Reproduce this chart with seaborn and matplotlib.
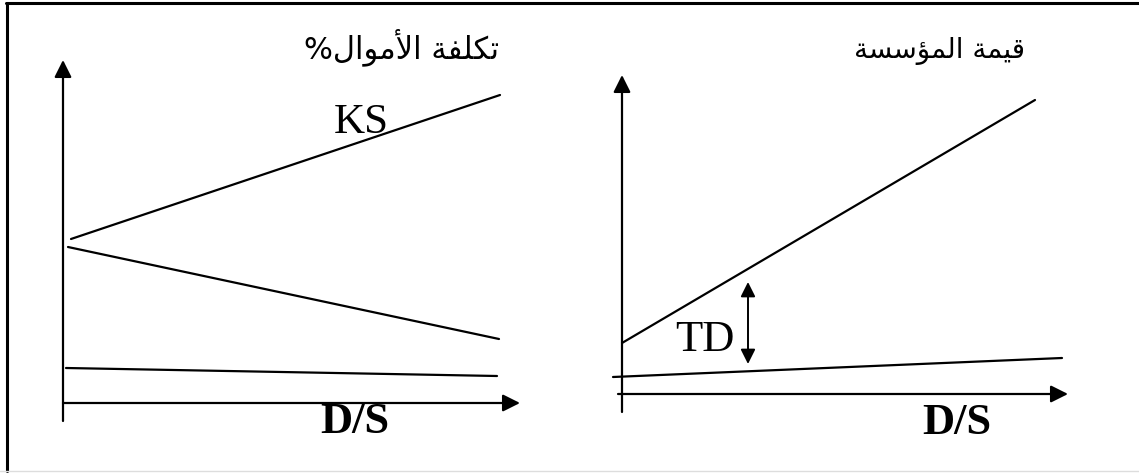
import pandas as pd
import seaborn as sns
import matplotlib.pyplot as plt
from matplotlib.lines import Line2D

# values (1 unit = 10 px from each panel's origin)
# left panel: cost of funds vs D/S
left_x_start = [0.8, 0.5, 0.3]
left_y_start = [16.4, 15.6, 3.5]
left_x_end = [43.7, 43.6, 43.4]
left_y_end = [30.8, 6.4, 2.7]
left_lines = ["KS", "KD_falling", "KD"]

# right panel: firm value vs D/S
right_x_start = [0.0, -0.9]
right_y_start = [5.1, 1.7]
right_x_end = [41.3, 44.0]
right_y_end = [29.4, 3.6]
right_lines = ["V_levered", "V_unlevered"]
td_x = 12.6
td_y = [3.0, 11.2]

# titles, hand-shaped Arabic (visual order, presentation forms)
title_left = "%\uFEDD\uFE8D\uFEEE\uFEE3\uFEF7\uFE8D \uFE94\uFED4\uFEE0\uFEDC\uFE97"   # تكلفة الأموال%
title_right = "\uFE94\uFEB4\uFEB3\uFE86\uFEE4\uFEDF\uFE8D \uFE94\uFEE4\uFEF4\uFED7"  # قيمة المؤسسة


def to_df(xs, ys, xe, ye, names):
    rows = []
    for a, b, c, d, n in zip(xs, ys, xe, ye, names):
        rows.append({"x": a, "y": b, "line": n})
        rows.append({"x": c, "y": d, "line": n})
    return pd.DataFrame(rows)


df_left = to_df(left_x_start, left_y_start, left_x_end, left_y_end, left_lines)
df_right = to_df(right_x_start, right_y_start, right_x_end, right_y_end, right_lines)

sns.set_style("white")
plt.rcParams["font.family"] = ["Liberation Serif", "DejaVu Sans"]
plt.rcParams["text.color"] = "black"

W, H = 1139, 475
fig = plt.figure(figsize=(W / 100, H / 100), dpi=100)


def px_axes(x0, y0, x1, y1):
    return fig.add_axes([x0 / W, 1 - y1 / H, (x1 - x0) / W, (y1 - y0) / H])


ax1 = px_axes(40, 40, 560, 460)
ax1.set_xlim(-2.3, 49.7)
ax1.set_ylim(-5.7, 36.3)
ax2 = px_axes(600, 40, 1100, 460)
ax2.set_xlim(-2.2, 47.8)
ax2.set_ylim(-6.6, 35.4)

for ax, df in [(ax1, df_left), (ax2, df_right)]:
    sns.lineplot(data=df, x="x", y="y", units="line", estimator=None,
                 color="black", lw=1.6, ax=ax, legend=False)
    ax.axis("off")

arrow = dict(arrowstyle="-|>", color="black", lw=1.6, mutation_scale=26,
             shrinkA=0, shrinkB=0)
# left axes
ax1.annotate("", xy=(0, 34.3), xytext=(0, -1.8), arrowprops=arrow)
ax1.annotate("", xy=(45.7, 0), xytext=(0, 0), arrowprops=arrow)
# right axes
ax2.annotate("", xy=(0, 31.9), xytext=(0, -1.8), arrowprops=arrow)
ax2.annotate("", xy=(44.6, 0), xytext=(-0.4, 0), arrowprops=arrow)
ax2.annotate("", xy=(td_x, td_y[0]), xytext=(td_x, td_y[1]),
             arrowprops=dict(arrowstyle="<|-|>", color="black", lw=1.4,
                             mutation_scale=22, shrinkA=0, shrinkB=0))

# labels
ax1.text(29.8, 28.0, "KS", fontsize=31, color="black", ha="center", va="center")
ax1.text(29.2, -1.9, "D/S", fontsize=32, fontweight="bold", color="black",
         ha="center", va="center")
ax1.text(33.9, 35.6, title_left, fontsize=22, color="black", ha="center",
         va="center", family="DejaVu Sans")

ax2.text(8.3, 5.4, "TD", fontsize=32, color="black", ha="center", va="center")
ax2.text(33.5, -2.9, "D/S", fontsize=32, fontweight="bold", color="black",
         ha="center", va="center")
ax2.text(31.8, 34.3, title_right, fontsize=20, color="black", ha="center",
         va="center", family="DejaVu Sans")

# page frame (left and top edges, faint bottom edge)
fig.add_artist(Line2D([7 / W, 7 / W], [1 - 3 / H, 1 - 471 / H], color="black", lw=2.2))
fig.add_artist(Line2D([6 / W, 1], [1 - 3 / H, 1 - 3 / H], color="black", lw=2.2))
fig.add_artist(Line2D([0, 1], [1 - 471 / H, 1 - 471 / H], color="#dddddd", lw=1))

fig.savefig("out.png", dpi=100)
